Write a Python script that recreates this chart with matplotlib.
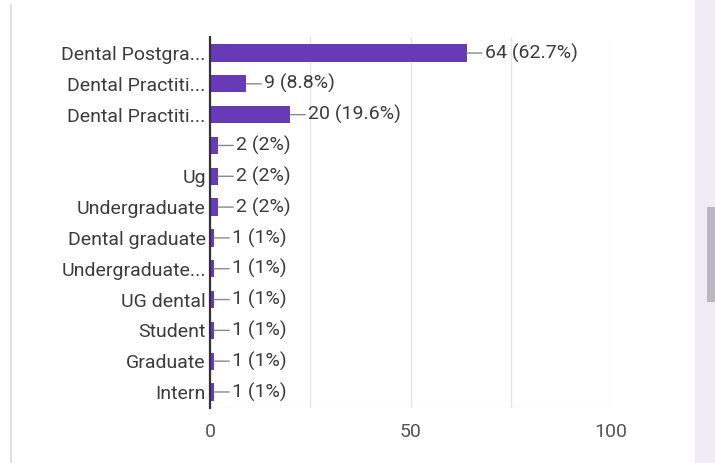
import matplotlib.pyplot as plt
from matplotlib.patches import Rectangle
from matplotlib.lines import Line2D

plt.rcParams['font.family'] = ['Roboto', 'DejaVu Sans']

# Data
categories = ['Dental Postgra...', 'Dental Practiti...', 'Dental Practiti...', '',
              'Ug', 'Undergraduate', 'Dental graduate', 'Undergraduate...',
              'UG dental', 'Student', 'Graduate', 'Intern']
counts = [64, 9, 20, 2, 2, 2, 1, 1, 1, 1, 1, 1]
pct_labels = ['62.7%', '8.8%', '19.6%', '2%', '2%', '2%',
              '1%', '1%', '1%', '1%', '1%', '1%']
x_ticks = [0, 50, 100]

BAR = '#673ab7'
TEXT = '#3c3c3c'
FS = 14

fig = plt.figure(figsize=(7.15, 4.63), dpi=100)
fig.patch.set_facecolor('white')

# page decorations: left border, right lavender strip with scrollbar
fig.add_artist(Line2D([11 / 715, 11 / 715], [0, 1 - 5 / 463],
                      color='#dcdcdc', lw=1.2, transform=fig.transFigure))
fig.add_artist(Rectangle((695 / 715, 0), 20 / 715, 1, transform=fig.transFigure,
                         facecolor='#efecf6', edgecolor='none'))
fig.add_artist(Rectangle((707 / 715, 1 - 302 / 463), 8 / 715, 95 / 463,
                         transform=fig.transFigure, facecolor='#bab6c2',
                         edgecolor='none'))

ax = fig.add_axes([210 / 715, 1 - 408 / 463, 401 / 715, 371 / 463])
ypos = list(range(len(categories)))
ax.barh(ypos, counts, height=0.56, color=BAR, zorder=3)

for y, c, p in zip(ypos, counts, pct_labels):
    ax.annotate(f'{c} ({p})', xy=(c, y), xytext=(13, 0), textcoords='offset points',
                ha='left', va='center', fontsize=FS, color=TEXT,
                arrowprops=dict(arrowstyle='-', color='#8a8a8a', lw=1,
                                shrinkA=0, shrinkB=0))

ax.set_xlim(0, 100)
ax.set_ylim(len(categories) - 0.48, -0.52)
ax.set_yticks(ypos)
ax.set_yticklabels(categories, fontsize=FS, color=TEXT)
ax.set_xticks(x_ticks)
ax.set_xticklabels([str(t) for t in x_ticks], fontsize=FS, color='#555555')
ax.set_xticks([25, 75], minor=True)
ax.tick_params(axis='both', which='both', length=0)
ax.tick_params(axis='y', pad=3)
ax.tick_params(axis='x', pad=11)
ax.grid(axis='x', which='both', color='#e6e6e6', lw=1, zorder=0)

for s in ['top', 'right', 'bottom']:
    ax.spines[s].set_visible(False)
ax.spines['left'].set_color('#333333')
ax.spines['left'].set_linewidth(1.6)
ax.spines['left'].set_zorder(4)
ax.axhline(len(categories) - 0.48, color='#eeeeee', lw=1, zorder=0)

fig.savefig('out.png', dpi=100)
